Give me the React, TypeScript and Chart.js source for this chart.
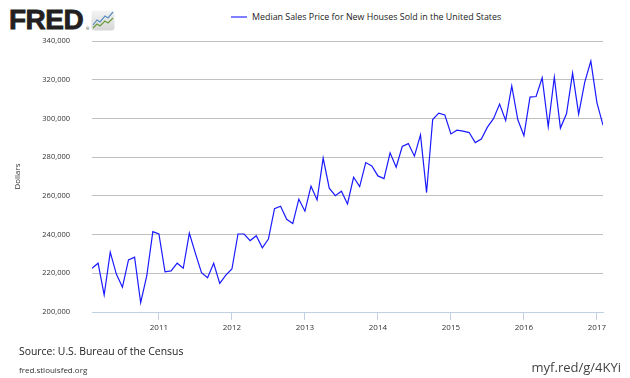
import React, { useEffect, useRef } from "react";
import { Chart, registerables } from "chart.js";

Chart.register(...registerables);

// Monthly data, Feb 2010 .. Feb 2017
const startYear = 2010;
const startMonth = 2; // February
const medianPrice: number[] = [
  222600, 225200, 208800, 230900, 219600, 212800, 226900, 228300, 204800, 218600, 241500, // 2010 Feb-Dec
  240300, 220800, 221200, 225200, 222600, 240700, 230300, 220300, 217700, 225200, 214800, 219100, // 2011
  222200, 240300, 240300, 236900, 239400, 233200, 237700, 253400, 254600, 247900, 245700, 258300, // 2012
  252100, 265000, 257900, 279500, 264000, 260100, 262400, 255800, 269600, 264800, 277200, 275500, // 2013
  270300, 268900, 282200, 274800, 285500, 287000, 280500, 291500, 261700, 299400, 302700, 301800, // 2014
  292000, 293900, 293400, 292700, 287500, 289300, 295500, 299900, 307400, 298900, 316800, 299300, // 2015
  291100, 311000, 311300, 321000, 295800, 321300, 295000, 302400, 323400, 302200, 318800, 329600, // 2016
  308200, 296500, // 2017 Jan-Feb
];
const yearTickLabels: string[] = ["2011", "2012", "2013", "2014", "2015", "2016", "2017"];
const yMin = 200000;
const yMax = 340000;
const yStep = 20000;

const seriesName = "Median Sales Price for New Houses Sold in the United States";
const yAxisTitle = "Dollars";
const sourceText = "Source: U.S. Bureau of the Census";
const siteText = "fred.stlouisfed.org";
const linkText = "myf.red/g/4KYi";

const FONT = "'Open Sans', 'DejaVu Sans', sans-serif";

function monthIndex(year: number, month: number): number {
  return (year - startYear) * 12 + (month - startMonth);
}

export default function App() {
  const canvasRef = useRef<HTMLCanvasElement | null>(null);

  useEffect(() => {
    const canvas = canvasRef.current;
    if (!canvas) return;
    const points = medianPrice.map((v, i) => ({ x: i, y: v }));
    const tickValues = yearTickLabels.map((y) => monthIndex(parseInt(y, 10), 1));
    const chart = new Chart(canvas, {
      type: "line",
      data: {
        datasets: [
          {
            data: points,
            borderColor: "#1a1aff",
            borderWidth: 1.2,
            pointRadius: 0,
            tension: 0,
            fill: false,
          },
        ],
      },
      options: {
        animation: false,
        responsive: false,
        devicePixelRatio: 1,
        layout: { padding: { left: 0, top: 41, right: 27, bottom: 0 } },
        plugins: { legend: { display: false }, tooltip: { enabled: false } },
        scales: {
          x: {
            type: "linear",
            min: 0,
            max: medianPrice.length - 1,
            afterBuildTicks: (scale: any) => {
              scale.ticks = tickValues.map((v) => ({ value: v }));
            },
            afterFit: (scale: any) => {
              scale.height = 66;
            },
            ticks: {
              autoSkip: false,
              maxRotation: 0,
              padding: 3,
              color: "#333333",
              font: { family: FONT, size: 8 },
              callback: (value: any) => {
                const idx = tickValues.indexOf(Number(value));
                return idx >= 0 ? yearTickLabels[idx] : "";
              },
            },
            grid: {
              drawOnChartArea: false,
              drawTicks: true,
              tickLength: 8,
              color: "#c0d0e0",
            },
            border: { display: true, color: "#c0d0e0" },
          },
          y: {
            min: yMin,
            max: yMax,
            afterFit: (scale: any) => {
              scale.width = 92;
            },
            ticks: {
              stepSize: yStep,
              padding: 22,
              color: "#333333",
              font: { family: FONT, size: 7.5 },
            },
            grid: {
              drawTicks: false,
              color: (ctx: any) => (ctx.tick && ctx.tick.value === yMin ? "rgba(0,0,0,0)" : "#c0c0c0"),
            },
            border: { display: false },
            title: {
              display: true,
              text: yAxisTitle,
              color: "#333333",
              font: { family: FONT, size: 8 },
              padding: { top: 13, bottom: 0 },
            },
          },
        },
      },
    } as any);
    return () => chart.destroy();
  }, []);

  return (
    <div
      style={{
        position: "fixed",
        left: 0,
        top: 0,
        width: 630,
        height: 378,
        background: "#ffffff",
        overflow: "hidden",
        fontFamily: FONT,
      }}
    >
      {/* FRED logo */}
      <div
        style={{
          position: "absolute",
          left: 9,
          top: 3,
          fontFamily: "'Liberation Sans', Arial, sans-serif",
          fontWeight: 900,
          fontSize: 28,
          lineHeight: "34px",
          color: "#231f20",
          letterSpacing: -0.5,
          WebkitTextStroke: "0.8px #231f20",
        }}
      >
        FRED
      </div>
      <div style={{ position: "absolute", left: 86, top: 26, fontSize: 4, lineHeight: "5px", color: "#231f20" }}>®</div>
      <svg style={{ position: "absolute", left: 91, top: 10 }} width={24} height={21} viewBox="0 0 24 21">
        <defs>
          <linearGradient id="fredg" x1="0" y1="0" x2="0" y2="1">
            <stop offset="0" stopColor="#f4f4f4" />
            <stop offset="1" stopColor="#d6d6d6" />
          </linearGradient>
        </defs>
        <rect x={0.5} y={0.5} width={23} height={20} rx={3} fill="url(#fredg)" />
        <polyline points="2,15 6,10 9,12 14,6 17,8 22,2" fill="none" stroke="#5a8fbf" strokeWidth={1.2} />
        <polyline points="2,18 6,14 9,16 14,11 17,13 22,8" fill="none" stroke="#6a9a3a" strokeWidth={1.2} />
      </svg>

      {/* Legend */}
      <div style={{ position: "absolute", left: 231, top: 16, width: 16, height: 2, background: "#7f7fff" }} />
      <div
        style={{
          position: "absolute",
          left: 252,
          top: 10,
          fontSize: 8.9,
          lineHeight: "14px",
          color: "#222222",
          whiteSpace: "nowrap",
        }}
      >
        {seriesName}
      </div>

      <canvas
        ref={canvasRef}
        width={630}
        height={378}
        style={{ position: "absolute", left: 0, top: 0, width: 630, height: 378 }}
      />

      {/* Footer */}
      <div
        style={{
          position: "absolute",
          left: 19,
          top: 343,
          fontSize: 10.4,
          lineHeight: "16px",
          color: "#222222",
          whiteSpace: "nowrap",
        }}
      >
        {sourceText}
      </div>
      <div
        style={{
          position: "absolute",
          left: 19,
          top: 365,
          fontSize: 8,
          lineHeight: "10px",
          color: "#333333",
          whiteSpace: "nowrap",
        }}
      >
        {siteText}
      </div>
      <div
        style={{
          position: "absolute",
          right: 9,
          top: 358,
          fontSize: 13,
          lineHeight: "18px",
          color: "#444444",
          whiteSpace: "nowrap",
        }}
      >
        {linkText}
      </div>
    </div>
  );
}
